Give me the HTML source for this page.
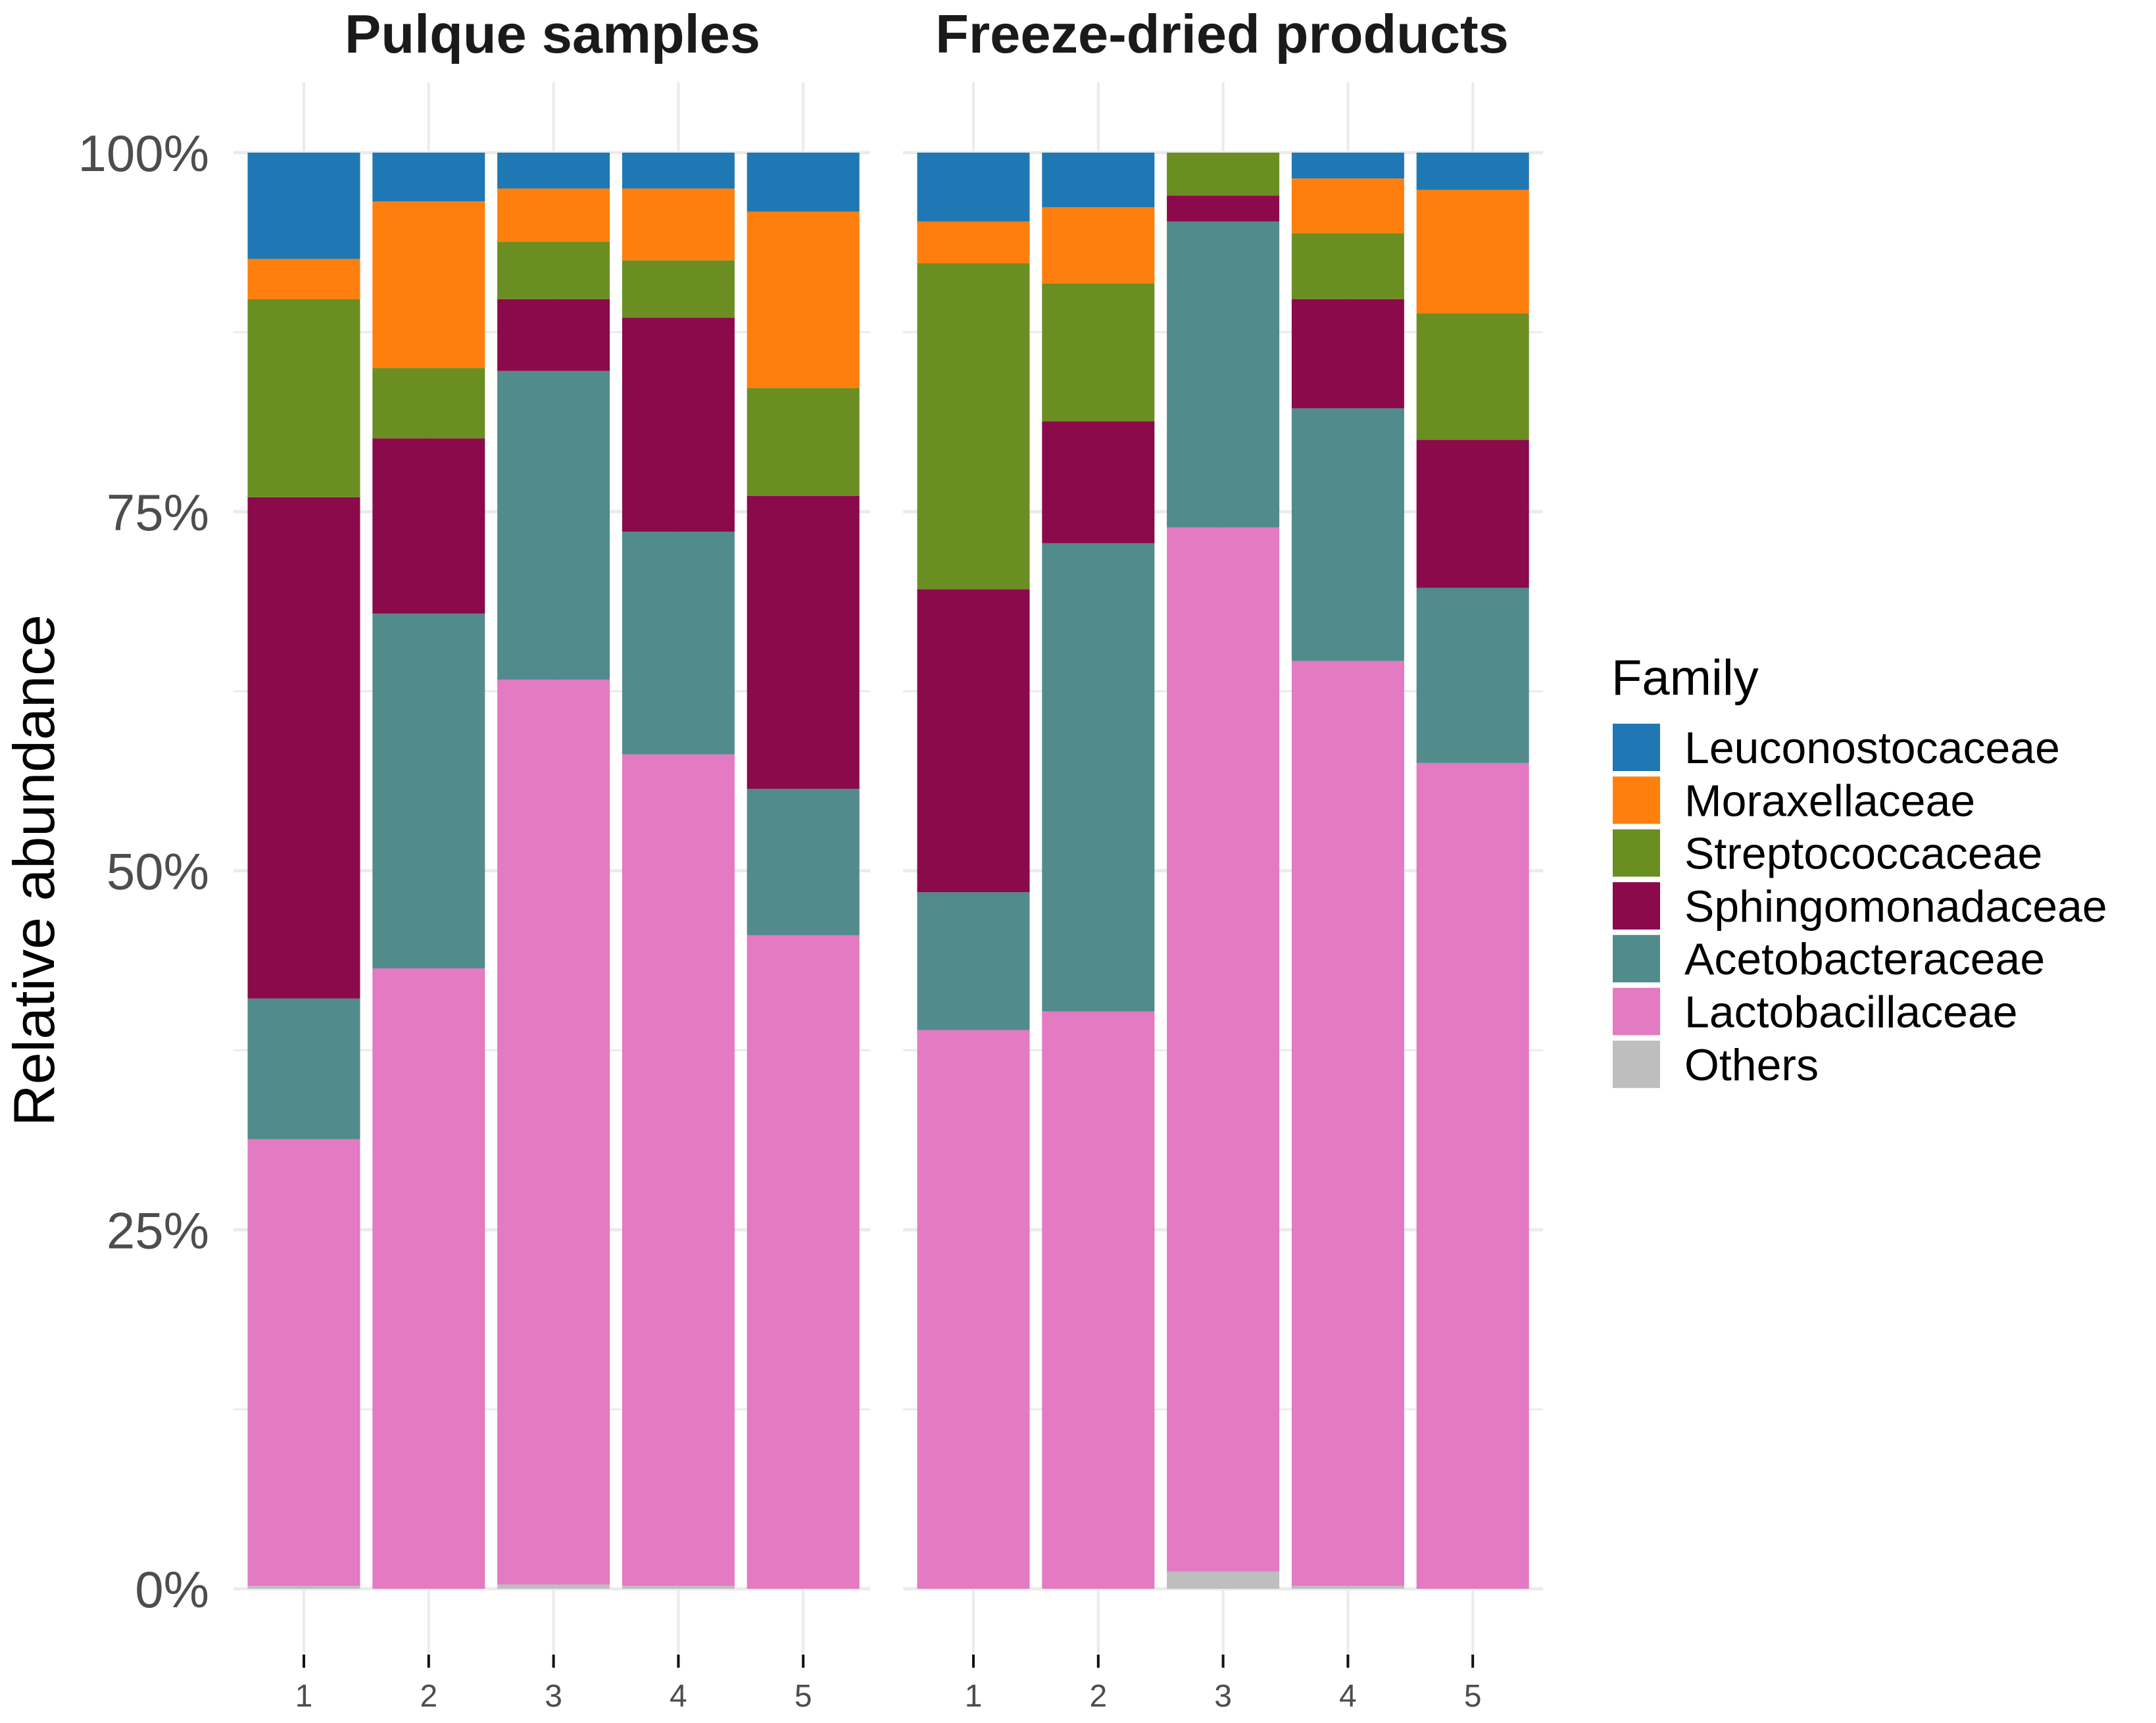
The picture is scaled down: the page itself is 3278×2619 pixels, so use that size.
<!DOCTYPE html>
<html><head><meta charset="utf-8"><style>
html,body{margin:0;padding:0;background:#fff}
svg{display:block;font-family:"Liberation Sans",Arial,sans-serif}
</style></head><body>
<svg id="chart" width="3278" height="2619" viewBox="0 0 3278 2619" xmlns="http://www.w3.org/2000/svg">
<g id="grid"></g>
<g id="bars"></g>
<g id="axes"></g>
<text x="840" y="80" text-anchor="middle" font-size="83" font-weight="bold" fill="#1a1a1a">Pulque samples</text>
<text x="1858" y="80" text-anchor="middle" font-size="83" font-weight="bold" fill="#1a1a1a">Freeze-dried products</text>
<text transform="translate(82,1323) rotate(-90)" text-anchor="middle" font-size="88" fill="#000">Relative abundance</text>
<g id="legend">
<text x="2450" y="1056" font-size="76" fill="#000">Family</text>
</g>
</svg>
<script>
const families = ["Others","Lactobacillaceae","Acetobacteraceae","Sphingomonadaceae","Streptococcaceae","Moraxellaceae","Leuconostocaceae"];
const colors = ["#bebebe","#e37ac2","#528b8b","#8b0a4b","#6b8e23","#ff7f0e","#1f78b4"];
const samples = ["1","2","3","4","5"];
const panels = ["Pulque samples","Freeze-dried products"];
// values per panel, per sample, ordered as families (bottom to top)
const pulque = [
 [0.2,31.1,9.8,34.9,13.8,2.8,7.4],
 [0,43.2,24.7,12.2,4.9,11.6,3.4],
 [0.3,63.0,21.5,5.0,4.0,3.7,2.5],
 [0.2,57.9,15.5,14.9,4.0,5.0,2.5],
 [0,45.5,10.2,20.4,7.5,12.3,4.1]
];
const freezeDried = [
 [0,38.9,9.6,21.1,22.7,2.9,4.8],
 [0,40.2,32.6,8.5,9.6,5.3,3.8],
 [1.2,72.7,21.3,1.8,3.0,0,0],
 [0.2,64.4,17.6,7.6,4.6,3.8,1.8],
 [0,57.5,12.2,10.3,8.8,8.6,2.6]
];
const yTicks = [0,25,50,75,100];
const yTickLabels = ["0%","25%","50%","75%","100%"];

const NS="http://www.w3.org/2000/svg";
const Y0=2415, Y100=232;
const y = v => Y0 - (v/100)*(Y0-Y100);
const panelX = [{x0:355,x1:1323,c0:462},{x0:1373,x1:2346,c0:1480}];
const step=189.8, bw=171;
const xc = (p,i) => panelX[p].c0 + i*step;
function mk(tag,attrs,parent){const e=document.createElementNS(NS,tag);for(const k in attrs)e.setAttribute(k,attrs[k]);parent.appendChild(e);return e;}
const grid=document.getElementById('grid'), bars=document.getElementById('bars'), axes=document.getElementById('axes'), legend=document.getElementById('legend');
[0,1].forEach(p=>{
  for(let v=0; v<=100; v+=12.5){
    const l=mk('line',{x1:panelX[p].x0,x2:panelX[p].x1,y1:y(v),y2:y(v),stroke:'#ebebeb','stroke-width':(v%25===0)?5:3},grid);
    
    
  }
  samples.forEach((s,i)=>{
    const l=mk('line',{x1:xc(p,i),x2:xc(p,i),y1:125,y2:2525,stroke:'#ebebeb','stroke-width':4},grid);
    
    
    const t=mk('line',{x1:xc(p,i),x2:xc(p,i),y1:2515,y2:2535,stroke:'#111','stroke-width':4},axes);
    
    
    const tl=mk('text',{x:xc(p,i),y:2594,'text-anchor':'middle','font-size':48,fill:'#4d4d4d'},axes);
    tl.textContent=s;
    
    
  });
  const data = p===0?pulque:freezeDried;
  data.forEach((vals,i)=>{
    let cum=0;
    vals.forEach((v,k)=>{
      if(v<=0){return;}
      const r=mk('rect',{x:xc(p,i)-bw/2,y:y(cum+v),width:bw,height:y(cum)-y(cum+v),fill:colors[k]},bars);
      
      
      cum+=v;
    });
  });
});
yTicks.forEach((v,i)=>{
  const t=mk('text',{x:318,y:y(v)+28,'text-anchor':'end','font-size':78,fill:'#4d4d4d'},axes);
  t.textContent=yTickLabels[i];
  
  
});
const legOrder=[6,5,4,3,2,1,0];
legOrder.forEach((k,j)=>{
  const ty=1100+j*80.3;
  const r=mk('rect',{x:2452,y:ty,width:72,height:72,fill:colors[k]},legend);
  
  
  const t=mk('text',{x:2561,y:ty+60,'font-size':68,fill:'#000'},legend);
  t.textContent=families[k];
  
  
});
</script>
</body></html>
